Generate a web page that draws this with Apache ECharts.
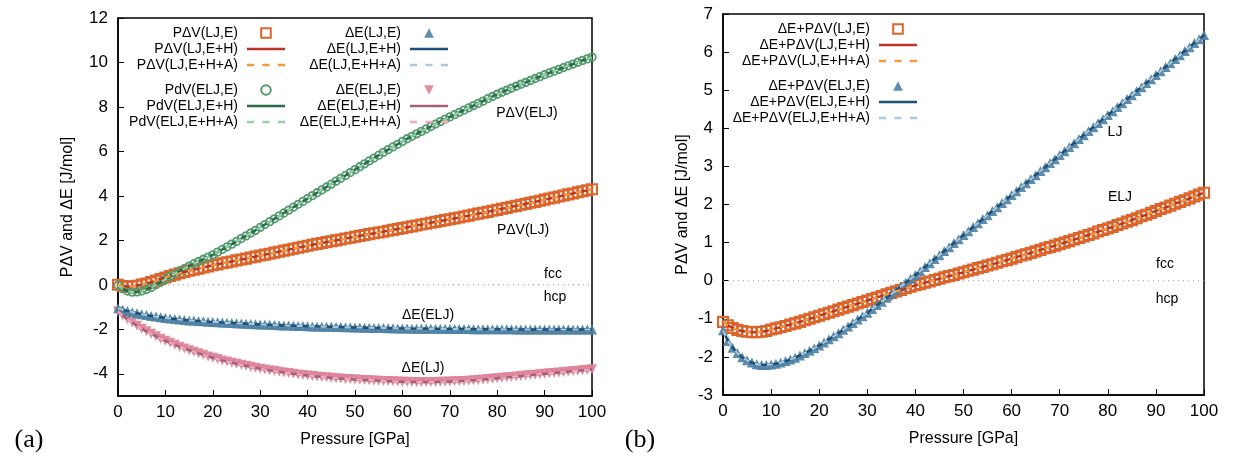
<!DOCTYPE html>
<html>
<head>
<meta charset="utf-8">
<script src="https://cdn.jsdelivr.net/npm/echarts@6/dist/echarts.min.js"></script>
<style>html,body{margin:0;padding:0;background:#fff;}#c{width:1236px;height:465px;}</style>
</head>
<body>
<div id="c"></div>
<script>
// ---------- DATA ----------
const pressure = [0,1,2,3,4,5,6,7,8,9,10,11,12,13,14,15,16,17,18,19,20,21,22,23,24,25,26,27,28,29,30,31,32,33,34,35,36,37,38,39,40,41,42,43,44,45,46,47,48,49,50,51,52,53,54,55,56,57,58,59,60,61,62,63,64,65,66,67,68,69,70,71,72,73,74,75,76,77,78,79,80,81,82,83,84,85,86,87,88,89,90,91,92,93,94,95,96,97,98,99,100];

// (a) P dV (LJ) - orange squares
const pdvLJ = [0.00,-0.05,-0.08,-0.07,-0.04,0.01,0.06,0.12,0.19,0.26,
0.33,0.40,0.46,0.52,0.58,0.63,0.68,0.73,0.78,0.83,
0.88,0.92,0.97,1.01,1.05,1.10,1.14,1.18,1.23,1.27,
1.32,1.36,1.40,1.45,1.49,1.54,1.58,1.62,1.67,1.71,
1.76,1.80,1.84,1.88,1.92,1.96,2.00,2.04,2.08,2.12,
2.16,2.20,2.24,2.28,2.32,2.35,2.39,2.43,2.47,2.51,
2.55,2.59,2.63,2.67,2.71,2.75,2.79,2.83,2.87,2.91,
2.95,2.99,3.03,3.07,3.11,3.16,3.20,3.24,3.28,3.33,
3.37,3.42,3.46,3.51,3.55,3.60,3.64,3.69,3.73,3.78,
3.83,3.88,3.92,3.97,4.02,4.07,4.11,4.16,4.21,4.25,
4.30];

// (a) P dV (ELJ) - green circles
const pdvELJ = [-0.02,-0.18,-0.28,-0.33,-0.32,-0.28,-0.21,-0.12,0.00,0.12,
0.25,0.38,0.50,0.62,0.73,0.84,0.95,1.05,1.15,1.25,
1.35,1.47,1.59,1.71,1.83,1.95,2.08,2.20,2.33,2.45,
2.58,2.71,2.84,2.97,3.10,3.23,3.36,3.49,3.62,3.75,
3.88,4.01,4.14,4.27,4.40,4.53,4.66,4.79,4.92,5.05,
5.18,5.31,5.44,5.57,5.70,5.83,5.96,6.08,6.20,6.32,
6.45,6.57,6.68,6.79,6.90,7.01,7.12,7.23,7.34,7.45,
7.55,7.65,7.76,7.86,7.96,8.06,8.16,8.26,8.37,8.47,
8.57,8.66,8.75,8.84,8.93,9.02,9.10,9.19,9.28,9.36,
9.45,9.53,9.61,9.69,9.77,9.85,9.93,10.01,10.09,10.16,
10.24];

// (a) dE - blue triangles (legend: dE(LJ,...))
const deBlue = [-1.05,-1.12,-1.18,-1.23,-1.28,-1.32,-1.36,-1.40,-1.43,-1.46,
-1.49,-1.51,-1.54,-1.56,-1.58,-1.60,-1.61,-1.63,-1.64,-1.66,
-1.67,-1.68,-1.70,-1.71,-1.72,-1.73,-1.74,-1.75,-1.76,-1.77,
-1.78,-1.79,-1.80,-1.81,-1.82,-1.83,-1.83,-1.84,-1.85,-1.85,
-1.86,-1.87,-1.87,-1.88,-1.88,-1.89,-1.90,-1.90,-1.91,-1.91,
-1.92,-1.92,-1.93,-1.93,-1.94,-1.94,-1.94,-1.95,-1.95,-1.96,
-1.96,-1.96,-1.97,-1.97,-1.97,-1.97,-1.98,-1.98,-1.98,-1.98,
-1.99,-1.99,-1.99,-1.99,-1.99,-2.00,-2.00,-2.00,-2.00,-2.00,
-2.00,-2.00,-2.00,-2.00,-2.01,-2.01,-2.01,-2.01,-2.01,-2.01,
-2.01,-2.01,-2.01,-2.01,-2.01,-2.01,-2.01,-2.01,-2.01,-2.01,
-2.01];

// (a) dE - pink down-triangles (legend: dE(ELJ,...))
const dePink = [-1.20,-1.38,-1.55,-1.70,-1.84,-1.97,-2.09,-2.20,-2.31,-2.42,
-2.52,-2.61,-2.70,-2.78,-2.86,-2.94,-3.01,-3.08,-3.15,-3.22,
-3.28,-3.34,-3.40,-3.45,-3.50,-3.55,-3.60,-3.64,-3.69,-3.73,
-3.77,-3.81,-3.84,-3.88,-3.91,-3.94,-3.97,-4.00,-4.03,-4.05,
-4.08,-4.10,-4.12,-4.14,-4.16,-4.18,-4.20,-4.21,-4.23,-4.24,
-4.26,-4.27,-4.28,-4.29,-4.30,-4.31,-4.32,-4.33,-4.34,-4.35,
-4.36,-4.36,-4.37,-4.37,-4.37,-4.37,-4.37,-4.37,-4.36,-4.36,
-4.35,-4.34,-4.33,-4.32,-4.31,-4.29,-4.28,-4.26,-4.24,-4.22,
-4.20,-4.18,-4.16,-4.14,-4.12,-4.10,-4.08,-4.06,-4.04,-4.02,
-4.00,-3.98,-3.96,-3.94,-3.92,-3.90,-3.88,-3.86,-3.84,-3.82,
-3.80];

// (b) dE + P dV (LJ) - orange squares
const sumLJ = [-1.08,-1.17,-1.24,-1.29,-1.32,-1.34,-1.35,-1.35,-1.34,-1.32,
-1.28,-1.25,-1.22,-1.19,-1.15,-1.12,-1.08,-1.04,-1.00,-0.96,
-0.92,-0.88,-0.84,-0.80,-0.76,-0.72,-0.68,-0.64,-0.60,-0.56,
-0.52,-0.48,-0.44,-0.40,-0.36,-0.32,-0.28,-0.24,-0.20,-0.16,
-0.12,-0.09,-0.05,-0.02,0.02,0.05,0.09,0.12,0.15,0.19,
0.22,0.26,0.29,0.33,0.36,0.40,0.43,0.47,0.51,0.54,
0.58,0.62,0.66,0.69,0.73,0.77,0.81,0.85,0.88,0.92,
0.96,1.00,1.04,1.08,1.12,1.16,1.20,1.24,1.29,1.33,
1.37,1.41,1.46,1.50,1.55,1.59,1.64,1.69,1.73,1.78,
1.83,1.88,1.92,1.97,2.02,2.07,2.11,2.16,2.21,2.26,
2.31];

// (b) dE + P dV (ELJ) - blue triangles
const sumELJ = [-1.30,-1.58,-1.76,-1.90,-2.01,-2.09,-2.15,-2.19,-2.21,-2.21,
-2.20,-2.18,-2.15,-2.11,-2.07,-2.02,-1.96,-1.90,-1.84,-1.77,
-1.70,-1.62,-1.54,-1.46,-1.38,-1.29,-1.20,-1.11,-1.02,-0.93,
-0.84,-0.74,-0.64,-0.55,-0.45,-0.35,-0.25,-0.15,-0.05,0.05,
0.15,0.25,0.36,0.46,0.57,0.67,0.78,0.88,0.99,1.09,
1.20,1.30,1.41,1.51,1.62,1.72,1.83,1.93,2.04,2.14,
2.25,2.35,2.46,2.56,2.67,2.77,2.88,2.98,3.09,3.19,
3.30,3.40,3.51,3.61,3.72,3.82,3.93,4.03,4.14,4.24,
4.35,4.45,4.56,4.66,4.77,4.87,4.98,5.08,5.19,5.29,
5.40,5.50,5.61,5.71,5.82,5.92,6.03,6.13,6.24,6.34,
6.45];

const yTicksA = [-4,-2,0,2,4,6,8,10,12];

const namesA1 = ['PΔV(LJ,E)','PΔV(LJ,E+H)','PΔV(LJ,E+H+A)'];
const namesA2 = ['PdV(ELJ,E)','PdV(ELJ,E+H)','PdV(ELJ,E+H+A)'];
const namesA3 = ['ΔE(LJ,E)','ΔE(LJ,E+H)','ΔE(LJ,E+H+A)'];
const namesA4 = ['ΔE(ELJ,E)','ΔE(ELJ,E+H)','ΔE(ELJ,E+H+A)'];
const namesB1 = ['ΔE+PΔV(LJ,E)','ΔE+PΔV(LJ,E+H)','ΔE+PΔV(LJ,E+H+A)'];
const namesB2 = ['ΔE+PΔV(ELJ,E)','ΔE+PΔV(ELJ,E+H)','ΔE+PΔV(ELJ,E+H+A)'];

// ---------- STYLE ----------
const FONT = 'Liberation Sans';
const C = {
  orange: {mark:'#dc652c', solid:'#b83528', dash:'#f59a3c', sym:'rect', size:10, bw:2.1, hollow:true},
  green:  {mark:'#529a6f', solid:'#2c6a48', dash:'#95d1a6', sym:'circle', size:7.5, bw:1.8, hollow:true},
  blue:   {mark:'#4b80a4', solid:'#1d4f78', dash:'#a9cad7', sym:'triangle', size:10, hollow:false},
  pink:   {mark:'#de8298', solid:'#a2607a', dash:'#f5a8b7', sym:'triangle', size:10, hollow:false, rot:180}
};
const ICON_SOLID = 'path://M0,0h38v2.4h-38z';
const ICON_DASH = 'path://M0,0h7v2.4h-7z M15.5,0h7v2.4h-7z M31,0h7v2.4h-7z';

function pts(ys){ return pressure.map((p,i)=>[p, ys[i]]); }

function group(names, ys, c, gi){
  const d = pts(ys);
  const mark = {
    name: names[0], type:'line', xAxisIndex:gi, yAxisIndex:gi, data:d,
    symbol:c.sym, symbolSize:c.size, symbolRotate:c.rot||0, showSymbol:true, showAllSymbol:true, z:2,
    lineStyle:{width:0, opacity:0},
    itemStyle: c.hollow ? {color:'rgba(255,255,255,0)', borderColor:c.mark, borderWidth:c.bw}
                        : {color:c.mark, borderWidth:0, opacity:0.9},
    silent:true
  };
  const solid = {
    name: names[1], type:'line', xAxisIndex:gi, yAxisIndex:gi, data:d, symbol:'none', z:3,
    lineStyle:{color:c.solid, width:2.4}, itemStyle:{color:c.solid}, silent:true
  };
  const dash = {
    name: names[2], type:'line', xAxisIndex:gi, yAxisIndex:gi, data:d, symbol:'none', z:4,
    lineStyle:{color:c.dash, width:2.2, type:[6,6]}, itemStyle:{color:c.dash}, silent:true
  };
  return [mark, solid, dash];
}

function zeroLine(gi){
  return {name:'zero', type:'line', xAxisIndex:gi, yAxisIndex:gi, data:[[0,0],[100,0]], symbol:'none', z:1,
    lineStyle:{color:'#9a9a9a', width:1, type:[1,4]}, silent:true};
}

function legend(names, c, right, top){
  return {data:[
      {name:names[0]},
      {name:names[1], icon:ICON_SOLID, itemStyle:{color:c.solid, borderWidth:0}},
      {name:names[2], icon:ICON_DASH, itemStyle:{color:c.dash, borderWidth:0}}
    ],
    orient:'vertical', align:'right', right:right, top:top, padding:0,
    itemWidth:38, itemHeight:12, itemGap:2, selectedMode:false,
    textStyle:{fontFamily:FONT, fontSize:14, color:'#000', lineHeight:13, padding:[0,4,0,0]}};
}

function xAxis(gi){
  return {gridIndex:gi, type:'value', min:0, max:100, interval:10,
    name:'Pressure [GPa]', nameLocation:'middle', nameGap:36,
    nameTextStyle:{fontFamily:FONT, fontSize:16, color:'#000'},
    axisLine:{show:true, onZero:false, lineStyle:{color:'#000', width:1.5}},
    axisTick:{show:true, inside:true, length:6, lineStyle:{color:'#000', width:1}},
    axisLabel:{color:'#000', fontFamily:FONT, fontSize:17, margin:8},
    splitLine:{show:false}};
}

const chart = echarts.init(document.getElementById('c'), null, {renderer:'canvas'});
const option = {
  animation:false,
  backgroundColor:'#fff',
  grid:[
    {left:118, right:644, top:18, bottom:69, show:true, borderColor:'#000', borderWidth:1.5},
    {left:723, right:32, top:14, bottom:70, show:true, borderColor:'#000', borderWidth:1.5}
  ],
  xAxis:[xAxis(0), xAxis(1)],
  yAxis:[
    {gridIndex:0, type:'value', min:-5, max:12,
     name:'PΔV and ΔE [J/mol]', nameLocation:'middle', nameGap:42, nameRotate:90,
     nameTextStyle:{fontFamily:FONT, fontSize:16, color:'#000'},
     axisLine:{show:true, onZero:false, lineStyle:{color:'#000', width:1.5}},
     axisTick:{show:true, inside:true, length:6, customValues:yTicksA, lineStyle:{color:'#000', width:1}},
     axisLabel:{color:'#000', fontFamily:FONT, fontSize:17, margin:10, customValues:yTicksA},
     splitLine:{show:false}},
    {gridIndex:1, type:'value', min:-3, max:7, interval:1,
     name:'PΔV and ΔE [J/mol]', nameLocation:'middle', nameGap:32, nameRotate:90,
     nameTextStyle:{fontFamily:FONT, fontSize:16, color:'#000'},
     axisLine:{show:true, onZero:false, lineStyle:{color:'#000', width:1.5}},
     axisTick:{show:true, inside:true, length:6, lineStyle:{color:'#000', width:1}},
     axisLabel:{color:'#000', fontFamily:FONT, fontSize:17, margin:10},
     splitLine:{show:false}}
  ],
  legend:[
    legend(namesA1, C.orange, 1236-285, 26),
    legend(namesA2, C.green, 1236-285, 83),
    legend(namesA3, C.blue, 1236-448, 26),
    legend(namesA4, C.pink, 1236-448, 83),
    legend(namesB1, C.orange, 1236-917, 22),
    legend(namesB2, C.blue, 1236-917, 79)
  ],
  series:[
    zeroLine(0), zeroLine(1),
    ...group(namesA1, pdvLJ, C.orange, 0),
    ...group(namesA2, pdvELJ, C.green, 0),
    ...group(namesA4, dePink, C.pink, 0),
    ...group(namesA3, deBlue, C.blue, 0),
    ...group(namesB1, sumLJ, C.orange, 1),
    ...group(namesB2, sumELJ, C.blue, 1)
  ],
  graphic:[
    {type:'text', x:527, y:113, style:{text:'PΔV(ELJ)', font:'14px "Liberation Sans"', fill:'#000', align:'center', verticalAlign:'middle'}},
    {type:'text', x:523, y:230, style:{text:'PΔV(LJ)', font:'14px "Liberation Sans"', fill:'#000', align:'center', verticalAlign:'middle'}},
    {type:'text', x:553, y:274, style:{text:'fcc', font:'14px "Liberation Sans"', fill:'#000', align:'center', verticalAlign:'middle'}},
    {type:'text', x:555, y:297, style:{text:'hcp', font:'14px "Liberation Sans"', fill:'#000', align:'center', verticalAlign:'middle'}},
    {type:'text', x:428, y:315, style:{text:'ΔE(ELJ)', font:'14px "Liberation Sans"', fill:'#000', align:'center', verticalAlign:'middle'}},
    {type:'text', x:423, y:368, style:{text:'ΔE(LJ)', font:'14px "Liberation Sans"', fill:'#000', align:'center', verticalAlign:'middle'}},
    {type:'text', x:1115, y:132, style:{text:'LJ', font:'14px "Liberation Sans"', fill:'#000', align:'center', verticalAlign:'middle'}},
    {type:'text', x:1120, y:197, style:{text:'ELJ', font:'14px "Liberation Sans"', fill:'#000', align:'center', verticalAlign:'middle'}},
    {type:'text', x:1165, y:264, style:{text:'fcc', font:'14px "Liberation Sans"', fill:'#000', align:'center', verticalAlign:'middle'}},
    {type:'text', x:1167, y:299, style:{text:'hcp', font:'14px "Liberation Sans"', fill:'#000', align:'center', verticalAlign:'middle'}},
    {type:'text', x:29, y:440, style:{text:'(a)', font:'26px "Liberation Serif"', fill:'#000', align:'center', verticalAlign:'middle'}},
    {type:'text', x:640, y:440, style:{text:'(b)', font:'26px "Liberation Serif"', fill:'#000', align:'center', verticalAlign:'middle'}}
  ]
};
chart.setOption(option);
</script>
</body>
</html>
